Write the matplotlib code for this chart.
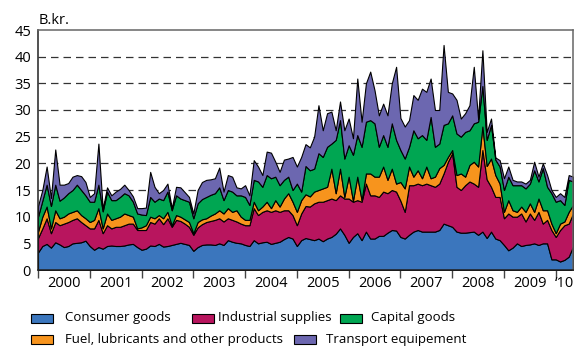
import matplotlib.pyplot as plt
import numpy as np
from matplotlib.patches import Rectangle

plt.rcParams['font.family'] = ['Open Sans', 'DejaVu Sans']

# monthly values, Jan 2000 - May 2010, billion kroner
consumer = [3.3, 4.5, 4.9, 4.2, 5.2, 4.8, 4.3, 4.5, 5.0, 5.1, 5.2, 5.5,
            4.5, 3.8, 4.3, 4.0, 4.5, 4.6, 4.5, 4.5, 4.6, 4.8, 4.9, 4.3,
            3.8, 4.0, 4.6, 4.5, 4.9, 4.4, 4.5, 4.7, 4.9, 5.1, 4.9, 4.7,
            3.6, 4.3, 4.7, 4.8, 4.8, 4.7, 5.0, 4.7, 5.6, 5.3, 5.1, 5.0,
            4.7, 4.5, 5.6, 5.0, 5.2, 5.3, 4.9, 5.1, 5.3, 5.8, 6.2, 5.9,
            4.5, 5.6, 6.0, 5.8, 5.6, 5.9, 5.4, 5.9, 6.2, 6.8, 7.8, 6.6,
            5.1, 6.2, 6.9, 5.6, 7.2, 5.9, 5.9, 6.4, 6.4, 7.0, 7.5, 7.4,
            6.2, 5.9, 6.6, 7.2, 7.5, 7.2, 7.2, 7.2, 7.2, 7.5, 8.7, 8.4,
            8.1, 7.2, 7.0, 7.0, 7.1, 7.2, 6.6, 7.2, 6.0, 7.2, 5.9, 5.6,
            4.7, 3.7, 4.2, 5.0, 4.5, 4.7, 4.8, 5.0, 4.7, 5.0, 5.0, 2.0,
            2.0, 1.6, 1.9, 2.5, 4.4]
industrial = [2.7, 3.3, 4.8, 2.7, 3.8, 3.6, 4.4, 4.5, 4.4, 4.6, 3.8, 2.9,
              3.3, 4.0, 5.1, 2.9, 3.9, 3.2, 3.6, 3.6, 3.8, 3.9, 3.8, 3.2,
              3.7, 3.5, 4.4, 4.2, 4.8, 4.2, 5.2, 3.4, 4.5, 4.1, 3.8, 3.4,
              3.0, 3.7, 3.9, 4.2, 4.4, 4.7, 4.7, 4.4, 4.1, 4.1, 4.0, 3.7,
              3.7, 3.9, 6.0, 5.3, 5.7, 5.9, 6.0, 6.1, 5.6, 5.4, 5.0, 4.4,
              3.9, 5.0, 6.0, 6.1, 6.9, 6.9, 7.4, 7.2, 7.2, 6.3, 6.2, 6.8,
              8.3, 6.6, 6.2, 7.2, 9.0, 8.1, 8.1, 7.3, 8.3, 7.4, 7.5, 7.3,
              6.8, 5.0, 9.3, 8.7, 8.7, 8.7, 9.0, 8.7, 8.4, 8.7, 9.4, 11.9,
              13.8, 8.4, 8.0, 8.9, 9.5, 9.0, 9.0, 15.3, 11.0, 8.4, 7.8, 8.1,
              5.0, 6.9, 5.8, 5.0, 6.1, 4.4, 5.8, 4.4, 6.2, 3.7, 4.4, 5.5,
              4.2, 5.9, 6.5, 6.2, 6.2]
fuel = [1.2, 2.2, 2.2, 0.9, 2.2, 1.3, 1.3, 1.6, 1.5, 1.5, 1.3, 1.3,
        1.2, 1.6, 2.2, 0.9, 2.2, 1.6, 1.6, 1.9, 2.2, 1.6, 1.3, 0.3,
        0.5, 0.9, 1.0, 1.0, 0.6, 1.1, 1.2, 0.3, 0.9, 0.8, 0.8, 0.9,
        0.3, 1.0, 0.9, 0.7, 1.0, 1.2, 1.5, 1.5, 1.9, 1.5, 2.1, 1.3,
        1.0, 1.0, 1.2, 0.9, 1.0, 1.6, 0.7, 1.9, 1.0, 2.2, 3.2, 2.5,
        2.5, 2.5, 2.2, 1.9, 2.2, 2.2, 2.5, 2.5, 5.6, 1.3, 5.0, 0.3,
        4.1, 0.2, 4.4, 0.3, 1.9, 4.1, 3.5, 3.8, 4.7, 2.5, 4.0, 1.5,
        3.5, 4.4, 3.5, 1.6, 2.5, 1.3, 3.2, 1.3, 1.9, 2.9, 1.6, 0.9,
        0.6, 2.2, 3.1, 1.6, 3.1, 4.1, 3.8, 4.4, 2.5, 5.3, 4.1, 2.5,
        1.2, 2.5, 1.2, 0.9, 1.3, 1.8, 1.9, 1.5, 2.5, 2.5, 1.8, 1.2,
        0.7, 1.2, 0.7, 2.2, 1.6]
capital = [2.8, 3.0, 4.1, 4.2, 4.8, 3.3, 3.6, 3.8, 4.1, 4.8, 4.7, 4.3,
           3.8, 3.4, 4.4, 3.2, 4.1, 3.7, 3.4, 3.7, 3.8, 3.7, 2.8, 2.8,
           2.4, 1.9, 3.7, 3.1, 3.1, 3.4, 3.8, 2.8, 3.7, 3.4, 3.6, 3.8,
           2.8, 3.5, 3.8, 4.0, 3.9, 3.8, 4.3, 2.5, 3.4, 3.8, 2.8, 4.0,
           4.3, 2.8, 4.1, 5.4, 3.7, 5.0, 5.6, 4.4, 4.0, 3.5, 3.1, 2.2,
           5.3, 1.6, 5.3, 4.9, 4.3, 6.9, 5.9, 7.5, 4.7, 10.0, 9.1, 7.2,
           5.9, 8.6, 7.8, 10.0, 9.7, 10.0, 10.0, 5.6, 5.9, 6.2, 8.5, 8.2,
           6.0, 5.6, 3.7, 8.7, 6.0, 8.1, 5.0, 11.5, 5.6, 4.6, 7.5, 6.3,
           6.5, 7.8, 6.9, 8.4, 6.5, 7.2, 8.4, 7.6, 4.9, 6.3, 2.9, 3.2,
           4.1, 4.4, 4.7, 5.0, 4.0, 4.4, 3.7, 7.8, 3.2, 7.9, 4.4, 5.7,
           5.9, 4.4, 3.1, 6.0, 4.4]
transport = [2.0, 2.0, 3.4, 1.5, 6.6, 3.0, 2.4, 1.9, 2.5, 1.8, 2.6, 2.5,
             0.9, 1.6, 7.7, 0.5, 0.8, 0.9, 1.6, 1.5, 1.6, 1.0, 1.0, 1.0,
             1.2, 1.4, 4.7, 2.8, 1.0, 1.9, 1.5, 0.4, 1.6, 2.1, 1.5, 0.9,
             0.9, 2.5, 3.2, 3.2, 2.9, 2.8, 3.7, 1.6, 2.8, 2.8, 1.5, 1.3,
             2.2, 1.8, 3.7, 2.8, 2.2, 4.4, 4.8, 2.8, 2.5, 3.8, 3.4, 6.2,
             3.2, 6.5, 4.1, 4.3, 6.0, 9.0, 5.0, 6.3, 6.0, 1.8, 3.5, 5.3,
             5.0, 3.1, 10.6, 4.7, 7.2, 9.1, 6.2, 5.9, 5.9, 5.9, 7.5, 13.7,
             6.0, 6.0, 5.0, 6.6, 7.2, 8.7, 9.0, 7.2, 6.9, 6.3, 15.0, 5.9,
             4.1, 6.3, 3.4, 3.5, 4.7, 10.6, 0.6, 6.7, 1.5, 1.2, 0.4, 1.2,
             2.2, 1.9, 1.0, 0.7, 0.7, 0.9, 0.7, 1.6, 0.9, 0.9, 2.2, 0.6,
             0.9, 1.3, 1.5, 0.9, 0.9]

labels = ['Consumer goods', 'Industrial supplies', 'Fuel, lubricants and other products',
          'Capital goods', 'Transport equipement']
colors = ['#3b76bd', '#b8155e', '#f7941d', '#00a652', '#6c67b0']
years = ['2000', '2001', '2002', '2003', '2004', '2005', '2006', '2007', '2008', '2009', '\u201810']


def main() -> None:
    fig = plt.figure(figsize=(5.79, 3.47), dpi=100)
    ax = fig.add_axes([38 / 579, 1 - 270 / 347, 535 / 579, 240 / 347])

    x = np.arange(len(consumer))
    ax.stackplot(x, consumer, industrial, fuel, capital, transport,
                 colors=colors, edgecolor='black', linewidth=0.8, zorder=2)

    for v in range(5, 45, 5):
        ax.axhline(v, color='#333333', lw=0.9, ls=(0, (6, 4)), zorder=1)

    n = len(x) - 1
    ax.set_xlim(0, n)
    ax.set_ylim(0, 45)
    ax.set_yticks(range(0, 50, 5))
    ax.tick_params(axis='y', length=0, pad=5, labelsize=10.5)

    ax.set_xticks(range(0, 121, 12))
    ax.set_xticklabels([])
    ax.set_xticks([6 + 12 * i for i in range(10)] + [122], minor=True)
    ax.set_xticklabels(years, minor=True, fontsize=10.5)
    ax.tick_params(axis='x', which='major', length=6, width=1, color='#444444')
    ax.tick_params(axis='x', which='minor', length=0, pad=4)

    for side in ['top', 'right']:
        ax.spines[side].set_color('#666666')
    for side in ['left', 'bottom']:
        ax.spines[side].set_color('#222222')
    for s in ax.spines.values():
        s.set_linewidth(1.1)

    fig.text(39 / 579, 1 - 20 / 347, 'B.kr.', fontsize=10.5, va='center', ha='left')

    # legend, laid out like the original (two rows)
    entries = [(0, 31, 65, 318), (1, 192, 218, 318), (3, 340, 371, 318),
               (2, 31, 65, 339), (4, 294, 326, 339)]
    for i, px, tx, py in entries:
        fig.patches.append(Rectangle((px / 579, 1 - (py + 4.5) / 347), 22 / 579, 9 / 347,
                                     transform=fig.transFigure, facecolor=colors[i],
                                     edgecolor='black', lw=0.8))
        fig.text(tx / 579, 1 - py / 347, labels[i], fontsize=9.5, va='center', ha='left')

    fig.savefig('out.png', dpi=100)


if __name__ == "__main__":
    main()
